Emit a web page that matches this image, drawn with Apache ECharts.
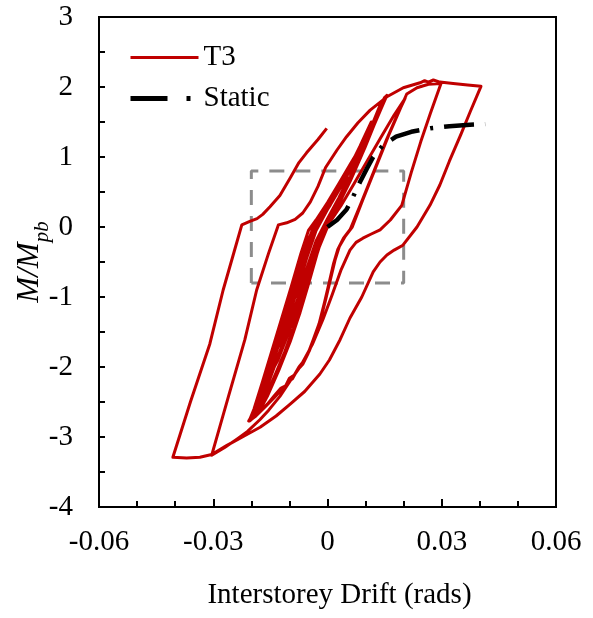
<!DOCTYPE html>
<html>
<head>
<meta charset="utf-8">
<script src="https://cdn.jsdelivr.net/npm/echarts@6.0.0/dist/echarts.min.js"></script>
<style>
  html, body { margin: 0; padding: 0; background: #fff; }
  #chart { width: 593px; height: 618px; }
</style>
</head>
<body>
<div id="chart"></div>
<script>
// Axis tick labels
const xTickLabels = ['-0.06', '-0.03', '0', '0.03', '0.06'];
const yTickLabels = ['-4', '-3', '-2', '-1', '0', '1', '2', '3'];

// T3 test: [drift (rad), M/Mpb], in loading order
// Early small-amplitude cycles
const t3Elastic = [
  [0, 0], [0.002, 0.2], [0.004, 0.45], [0.0055, 0.7],
  [0.003, 0.42], [0.0, 0.12], [-0.003, -0.2], [-0.0055, -0.6], [-0.008, -1.0],
  [-0.006, -0.8], [-0.004, -0.45], [-0.002, -0.15], [0.0, 0.05],
  [0.003, 0.35], [0.006, 0.72], [0.0085, 1.1],
  [0.006, 0.86], [0.003, 0.55], [0.0, 0.25], [-0.003, -0.05], [-0.0055, -0.45], [-0.008, -0.9], [-0.0105, -1.35], [-0.0125, -1.7],
  [-0.01, -1.45], [-0.0075, -1.1], [-0.005, -0.72], [-0.0025, -0.33], [0.0, 0.0],
  [0.003, 0.35], [0.006, 0.72], [0.009, 1.1], [0.0115, 1.5],
  [0.0085, 1.15], [0.0055, 0.82], [0.0025, 0.5], [-0.0005, 0.2], [-0.0035, -0.05], [-0.006, -0.45], [-0.0085, -0.9], [-0.011, -1.35], [-0.0135, -1.8], [-0.0155, -2.15],
  [-0.013, -1.9], [-0.0105, -1.55], [-0.008, -1.17], [-0.0055, -0.78], [-0.003, -0.38], [-0.001, -0.08], [0.0015, 0.15],
  [0.0045, 0.5], [0.0075, 0.9], [0.0105, 1.3], [0.0135, 1.7], [0.015, 1.85]
];

// Repeated cycles forming the dense central band
const t3Band = [
  [0.012, 1.5], [0.009, 1.17], [0.006, 0.9], [0.003, 0.62], [0.0, 0.35], [-0.003, 0.1], [-0.005, -0.05], [-0.007, -0.38], [-0.0095, -0.85], [-0.012, -1.3], [-0.0145, -1.75], [-0.017, -2.2], [-0.0193, -2.6], [-0.0205, -2.76],
  [-0.019, -2.7], [-0.0165, -2.48], [-0.0135, -2.12], [-0.0105, -1.72], [-0.0078, -1.3], [-0.0055, -0.88], [-0.0033, -0.45], [-0.0015, -0.12], [0.0005, 0.08], [0.003, 0.33], [0.006, 0.66], [0.009, 1.03], [0.0115, 1.38], [0.0135, 1.62], [0.0152, 1.86],
  [0.0125, 1.52], [0.0095, 1.18], [0.0065, 0.88], [0.0035, 0.58], [0.0005, 0.3], [-0.0025, 0.04], [-0.0045, -0.15], [-0.0065, -0.5], [-0.009, -0.95], [-0.0115, -1.42], [-0.014, -1.86], [-0.0165, -2.28], [-0.0188, -2.62], [-0.0198, -2.74],
  [-0.0182, -2.66], [-0.0158, -2.42], [-0.0128, -2.05], [-0.0098, -1.64], [-0.0072, -1.22], [-0.0048, -0.78], [-0.0026, -0.36], [-0.0008, -0.05], [0.0012, 0.14], [0.0038, 0.42], [0.0068, 0.76], [0.0098, 1.13], [0.0122, 1.45], [0.014, 1.68], [0.0156, 1.88],
  [0.0128, 1.55], [0.0098, 1.2], [0.0068, 0.9], [0.0038, 0.6], [0.0008, 0.32], [-0.0022, 0.06], [-0.0048, -0.2], [-0.0072, -0.6], [-0.0098, -1.08], [-0.0123, -1.52], [-0.0148, -1.95], [-0.0172, -2.34], [-0.0195, -2.66], [-0.0207, -2.77],
  [-0.0192, -2.7], [-0.0168, -2.5], [-0.014, -2.16], [-0.011, -1.76], [-0.0083, -1.35], [-0.006, -0.94], [-0.0038, -0.52], [-0.002, -0.2], [-0.0002, 0.02], [0.0022, 0.26], [0.0052, 0.6], [0.0082, 0.98], [0.0108, 1.32], [0.013, 1.6], [0.0148, 1.82],
  [0.012, 1.48], [0.0088, 1.12], [0.0058, 0.84], [0.0028, 0.56], [-0.0002, 0.28], [-0.0032, 0.02], [-0.0055, -0.28], [-0.0078, -0.7], [-0.0103, -1.16], [-0.0128, -1.6], [-0.0152, -2.02], [-0.0176, -2.4], [-0.0196, -2.68], [-0.0203, -2.75],
  [-0.0185, -2.64], [-0.016, -2.4], [-0.0132, -2.06], [-0.0102, -1.66], [-0.0075, -1.26], [-0.0052, -0.84], [-0.003, -0.42], [-0.0012, -0.1], [0.0008, 0.1], [0.0034, 0.38], [0.0064, 0.72], [0.0094, 1.1], [0.012, 1.44], [0.0138, 1.66], [0.0154, 1.86],
  [0.0128, 1.54], [0.01, 1.22], [0.0072, 0.94], [0.0042, 0.64], [0.0012, 0.36], [-0.0018, 0.1], [-0.0042, -0.12], [-0.0062, -0.45], [-0.0088, -0.92], [-0.0112, -1.38], [-0.0138, -1.82], [-0.0162, -2.24], [-0.0186, -2.6], [-0.02, -2.75],
  [-0.0186, -2.68], [-0.0162, -2.46], [-0.0133, -2.1], [-0.0103, -1.69], [-0.0076, -1.28], [-0.0053, -0.86], [-0.0031, -0.44], [-0.0013, -0.11], [0.0006, 0.09], [0.0032, 0.36], [0.0062, 0.7], [0.0092, 1.08], [0.0118, 1.42], [0.0137, 1.65], [0.0153, 1.86],
  [0.0124, 1.5], [0.0093, 1.16], [0.0063, 0.88], [0.0033, 0.6], [0.0003, 0.32], [-0.0027, 0.07], [-0.005, -0.17], [-0.007, -0.52], [-0.0095, -0.99], [-0.012, -1.45], [-0.0145, -1.9], [-0.017, -2.31], [-0.0192, -2.64], [-0.0206, -2.77],
  [-0.0194, -2.72], [-0.0172, -2.54], [-0.0145, -2.22], [-0.0116, -1.84], [-0.009, -1.45], [-0.0067, -1.05], [-0.0046, -0.62], [-0.0028, -0.28], [-0.001, -0.03], [0.0015, 0.2], [0.0045, 0.52], [0.0075, 0.9], [0.0103, 1.26], [0.0126, 1.56], [0.0147, 1.82],
  [0.0118, 1.46], [0.0085, 1.08], [0.0053, 0.78], [0.0022, 0.48], [-0.0008, 0.22], [-0.0038, -0.02], [-0.006, -0.33], [-0.0083, -0.78], [-0.0107, -1.22], [-0.0132, -1.66], [-0.0157, -2.1], [-0.018, -2.46], [-0.0198, -2.7], [-0.0205, -2.76],
  [-0.0188, -2.66], [-0.0163, -2.43], [-0.0135, -2.08], [-0.0106, -1.7], [-0.008, -1.3], [-0.0057, -0.9], [-0.0036, -0.5], [-0.0018, -0.17], [0.0001, 0.05], [0.0026, 0.3], [0.0056, 0.64], [0.0086, 1.0], [0.0112, 1.35], [0.0133, 1.62], [0.0151, 1.84],
  [0.0122, 1.5], [0.009, 1.14], [0.006, 0.86], [0.003, 0.58], [0.0, 0.3], [-0.003, 0.05], [-0.0057, -0.3], [-0.0081, -0.74], [-0.0106, -1.2], [-0.0131, -1.64], [-0.0156, -2.06], [-0.0179, -2.44], [-0.0197, -2.7], [-0.0204, -2.76],
  [-0.019, -2.69], [-0.0166, -2.47], [-0.0138, -2.13], [-0.0108, -1.73], [-0.0081, -1.32], [-0.0058, -0.91], [-0.0036, -0.48], [-0.0017, -0.15], [0.0003, 0.06], [0.0028, 0.32], [0.0058, 0.66], [0.0088, 1.04], [0.0114, 1.38], [0.0134, 1.63], [0.0152, 1.86],
  [0.0126, 1.53], [0.0096, 1.2], [0.0066, 0.91], [0.0036, 0.62], [0.0006, 0.34], [-0.0024, 0.08], [-0.0046, -0.16], [-0.0066, -0.5], [-0.0091, -0.97], [-0.0116, -1.43], [-0.0142, -1.88], [-0.0167, -2.28], [-0.019, -2.63], [-0.0205, -2.77]
];

// Two cycles to about +/-0.02 rad, then the first push to +0.03 rad
const t3Cycle002 = [
  [-0.0188, -2.7], [-0.0162, -2.56], [-0.014, -2.44], [-0.0125, -2.35], [-0.0115, -2.33], [-0.0105, -2.22], [-0.0092, -2.17], [-0.008, -2.05], [-0.0065, -1.96], [-0.0052, -1.82], [-0.0038, -1.62], [-0.0022, -1.38], [-0.0008, -1.08], [0.0005, -0.78], [0.0016, -0.52], [0.0027, -0.32], [0.0042, -0.16], [0.006, -0.03], [0.0088, 0.34], [0.0122, 0.8], [0.0155, 1.25], [0.0183, 1.6], [0.0204, 1.84],
  [0.0175, 1.6], [0.014, 1.28], [0.0105, 0.95], [0.007, 0.62], [0.0035, 0.3], [0.0, 0.02], [-0.0025, -0.2], [-0.005, -0.58], [-0.0078, -1.02], [-0.0105, -1.46], [-0.0133, -1.9], [-0.016, -2.3], [-0.0185, -2.62], [-0.0204, -2.77],
  [-0.0185, -2.68], [-0.0158, -2.53], [-0.0138, -2.4], [-0.0122, -2.3], [-0.011, -2.27], [-0.01, -2.16], [-0.0088, -2.12], [-0.0075, -2.0], [-0.006, -1.9], [-0.0047, -1.76], [-0.0033, -1.56], [-0.0018, -1.32], [-0.0004, -1.02], [0.0009, -0.72], [0.002, -0.47], [0.0031, -0.28], [0.0047, -0.13], [0.0065, 0.0], [0.0092, 0.38], [0.0126, 0.84], [0.016, 1.3], [0.0188, 1.65], [0.0208, 1.9], [0.0235, 1.99], [0.0265, 2.04], [0.0298, 2.05]
];

// Cycle to -0.03 rad and the push to +0.04 rad
const t3Cycle003 = [
  [0.027, 1.62], [0.0245, 1.22], [0.022, 0.78], [0.0195, 0.31], [0.0165, 0.1], [0.0138, -0.04], [0.0115, -0.1], [0.0093, -0.16], [0.0075, -0.22], [0.0059, -0.33], [0.0035, -0.62], [0.0012, -0.97], [-0.0012, -1.32], [-0.004, -1.68], [-0.0072, -2.0], [-0.0098, -2.2], [-0.0125, -2.42], [-0.0155, -2.62], [-0.0177, -2.75], [-0.021, -2.92], [-0.0238, -3.03], [-0.027, -3.15], [-0.0304, -3.26],
  [-0.026, -2.42], [-0.0217, -1.61], [-0.0186, -0.9], [-0.0155, -0.38], [-0.0129, 0.03], [-0.0107, 0.06], [-0.0085, 0.11], [-0.0065, 0.2], [-0.0045, 0.36], [-0.0025, 0.58], [-0.0005, 0.85], [0.0025, 1.1], [0.005, 1.29], [0.008, 1.49], [0.0112, 1.67], [0.0156, 1.86], [0.0199, 1.99], [0.0243, 2.06], [0.0255, 2.09], [0.0265, 2.07], [0.0278, 2.1], [0.0295, 2.07], [0.033, 2.05], [0.0368, 2.03], [0.0403, 2.01]
];

// Cycle to -0.04 rad and the final reload
const t3Cycle004 = [
  [0.0375, 1.65], [0.035, 1.32], [0.032, 0.94], [0.0295, 0.6], [0.0269, 0.31], [0.0235, 0.0], [0.0198, -0.26], [0.0175, -0.33], [0.0156, -0.4], [0.0138, -0.5], [0.012, -0.64], [0.009, -1.0], [0.0059, -1.3], [0.0033, -1.61], [0.0005, -1.9], [-0.002, -2.1], [-0.006, -2.35], [-0.0098, -2.53], [-0.0135, -2.7], [-0.0177, -2.86], [-0.022, -2.99], [-0.0264, -3.12], [-0.0304, -3.25], [-0.0335, -3.29], [-0.037, -3.3], [-0.0406, -3.29],
  [-0.036, -2.5], [-0.0309, -1.67], [-0.0274, -0.9], [-0.0245, -0.35], [-0.0225, 0.03], [-0.0204, 0.08], [-0.0185, 0.12], [-0.017, 0.18], [-0.0151, 0.29], [-0.0125, 0.45], [-0.0098, 0.7], [-0.0075, 0.92], [-0.0055, 1.06], [-0.0025, 1.25], [-0.0002, 1.41]
];

// Static pushover curve
const staticCurve = [
  [0, 0], [0.0025, 0.1], [0.005, 0.25], [0.0067, 0.43], [0.0085, 0.64], [0.0103, 0.83], [0.012, 1.0], [0.0146, 1.17], [0.018, 1.29], [0.022, 1.36], [0.027, 1.41], [0.032, 1.44], [0.0374, 1.46], [0.0414, 1.47]
];

// Dashed outline of the small-drift region
const zoomBox = [[-0.02, -0.8], [-0.02, 0.8], [0.02, 0.8], [0.02, -0.8], [-0.02, -0.8]];

const t3 = [].concat(t3Elastic, t3Band, t3Cycle002, t3Cycle003, t3Cycle004);

const serif = "'Liberation Serif', 'Times New Roman', serif";

function pickLabel(labels, value) {
  const hit = labels.find(s => Math.abs(parseFloat(s) - value) < 1e-9);
  return hit === undefined ? '' : hit;
}

const chart = echarts.init(document.getElementById('chart'), null, { renderer: 'canvas' });

chart.setOption({
  animation: false,
  backgroundColor: '#fff',
  grid: {
    left: 99, right: 37, top: 17, bottom: 111,
    outerBoundsMode: 'none', containLabel: false,
    show: true, borderColor: '#000', borderWidth: 2, backgroundColor: 'transparent'
  },
  legend: {
    left: 128, top: 43, orient: 'vertical', padding: 0,
    itemWidth: 68, itemHeight: 14, itemGap: 12,
    itemStyle: { color: 'rgba(0,0,0,0)', borderWidth: 0, opacity: 0 },
    textStyle: { fontFamily: serif, fontSize: 29, color: '#000' },
    data: [
      { name: 'T3', lineStyle: { width: 3 } },
      { name: 'Static', lineStyle: { type: [37, 19, 4, 40], width: 5 } }
    ]
  },
  xAxis: {
    type: 'value', min: -0.06, max: 0.06, interval: 0.03,
    name: 'Interstorey Drift (rads)', nameLocation: 'middle', nameGap: 74,
    nameTextStyle: { fontFamily: serif, fontSize: 29, color: '#000', padding: [0, 0, 0, 24] },
    axisLine: { onZero: false, lineStyle: { color: '#000', width: 2 } },
    axisTick: { inside: true, length: 8, lineStyle: { color: '#000', width: 2 } },
    minorTick: { show: true, splitNumber: 3, length: 6, lineStyle: { color: '#000', width: 2 } },
    splitLine: { show: false },
    axisLabel: {
      margin: 21, fontFamily: serif, fontSize: 29, color: '#000',
      formatter: v => pickLabel(xTickLabels, v)
    }
  },
  yAxis: {
    type: 'value', min: -4, max: 3, interval: 1,
    name: '{i|M/M}{s|pb}', nameLocation: 'middle', nameGap: 54, nameRotate: 90,
    nameMoveOverlap: false,
    nameTextStyle: {
      rich: {
        i: { fontFamily: serif, fontSize: 31, fontStyle: 'italic', color: '#000' },
        s: { fontFamily: serif, fontSize: 21, fontStyle: 'italic', color: '#000', verticalAlign: 'bottom', padding: [0, 0, -8, 0] }
      }
    },
    axisLine: { onZero: false, lineStyle: { color: '#000', width: 2 } },
    axisTick: { inside: true, length: 6, lineStyle: { color: '#000', width: 2 } },
    minorTick: { show: true, splitNumber: 2, length: 6, lineStyle: { color: '#000', width: 2 } },
    splitLine: { show: false },
    axisLabel: {
      margin: 26, fontFamily: serif, fontSize: 29, color: '#000',
      formatter: v => pickLabel(yTickLabels, v)
    }
  },
  series: [
    {
      name: 'region', type: 'line', data: zoomBox, symbol: 'none', silent: true, z: 1,
      lineStyle: { color: '#8c8c8c', width: 3, type: [15, 11] }
    },
    {
      name: 'T3', type: 'line', data: t3, symbol: 'none', z: 2,
      lineStyle: { color: '#c00000', width: 3, join: 'round' },
      itemStyle: { color: '#c00000' }
    },
    {
      name: 'Static', type: 'line', data: staticCurve, symbol: 'none', z: 3,
      lineStyle: { color: '#000', width: 4.5, type: [30, 11, 3, 11] },
      itemStyle: { color: '#000' }
    }
  ]
});
</script>
</body>
</html>
